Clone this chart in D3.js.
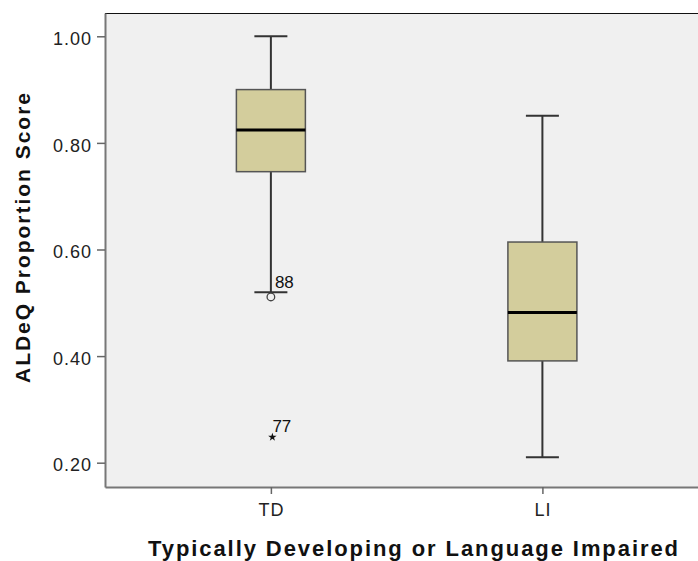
<!DOCTYPE html>
<html>
<head>
<meta charset="utf-8">
<script src="https://cdn.jsdelivr.net/npm/d3@7"></script>
<style>
  body { margin: 0; background: #fff; }
  svg { display: block; font-family: Arial, "Liberation Sans", sans-serif; }
</style>
</head>
<body>
<svg id="chart" width="698" height="561"></svg>
<script>
// box plot values
const groups = ["TD", "LI"];
const whiskerLow = [0.520, 0.210];
const q1 = [0.746, 0.391];
const median = [0.824, 0.482];
const q3 = [0.900, 0.614];
const whiskerHigh = [1.000, 0.851];

// outliers: group, value, case label, symbol
const outlierGroup = ["TD", "TD"];
const outlierValue = [0.511, 0.248];
const outlierLabel = ["88", "77"];
const outlierKind = ["circle", "star"];

const yTicks = [0.20, 0.40, 0.60, 0.80, 1.00];

const svg = d3.select('#chart');
const plotLeft = 105, plotTop = 13, plotRight = 698, plotBottom = 487;

var y = d3.scaleLinear().domain([0.1544, 1.0437]).range([plotBottom, plotTop]);
var x = d3.scalePoint().domain(groups).range([plotLeft, plotRight]).padding(0.592).align(0.516);
const boxW = 69, capW = 33;

// plot background
svg.append('rect')
    .attr('x', plotLeft).attr('y', plotTop)
    .attr('width', plotRight - plotLeft).attr('height', plotBottom - plotTop)
    .attr('fill', '#f0f0f0');

// top border
svg.append('line')
    .attr('x1', plotLeft).attr('x2', plotRight)
    .attr('y1', plotTop + 0.5).attr('y2', plotTop + 0.5)
    .attr('stroke', '#111').attr('stroke-width', 1.2);

// y axis
const yAxis = svg.append('g')
    .attr('transform', 'translate(' + plotLeft + ',0)')
    .call(d3.axisLeft(y).tickValues(yTicks).tickFormat(d3.format('.2f'))
        .tickSize(8).tickSizeOuter(0).tickPadding(5));
yAxis.select('.domain').attr('stroke', '#777').attr('stroke-width', 2);
yAxis.selectAll('.tick line').attr('stroke', '#666').attr('stroke-width', 1.5);
yAxis.selectAll('.tick text')
    .attr('font-size', 18).attr('fill', '#222')
    .attr('letter-spacing', 1)
    .attr('dy', '0.45em')
    .attr('font-family', 'Arial, "Liberation Sans", sans-serif');

// x axis
const xAxis = svg.append('g')
    .attr('transform', 'translate(0,' + plotBottom + ')')
    .call(d3.axisBottom(x).tickSize(7).tickSizeOuter(0).tickPadding(9));
xAxis.select('.domain').attr('stroke', '#777').attr('stroke-width', 2);
xAxis.selectAll('.tick line').attr('stroke', '#666').attr('stroke-width', 1.5);
xAxis.selectAll('.tick text')
    .attr('font-size', 18).attr('fill', '#222')
    .attr('letter-spacing', 0.8)
    .attr('font-family', 'Arial, "Liberation Sans", sans-serif');

const g = svg.append('g');

groups.forEach(function(name, i) {
    const cx = x(name);
    // whiskers
    g.append('line')
        .attr('x1', cx).attr('x2', cx)
        .attr('y1', y(whiskerHigh[i])).attr('y2', y(q3[i]))
        .attr('stroke', '#333').attr('stroke-width', 2);
    g.append('line')
        .attr('x1', cx).attr('x2', cx)
        .attr('y1', y(q1[i])).attr('y2', y(whiskerLow[i]))
        .attr('stroke', '#333').attr('stroke-width', 2);
    // caps
    g.append('line')
        .attr('x1', cx - capW / 2).attr('x2', cx + capW / 2)
        .attr('y1', y(whiskerHigh[i])).attr('y2', y(whiskerHigh[i]))
        .attr('stroke', '#333').attr('stroke-width', 2);
    g.append('line')
        .attr('x1', cx - capW / 2).attr('x2', cx + capW / 2)
        .attr('y1', y(whiskerLow[i])).attr('y2', y(whiskerLow[i]))
        .attr('stroke', '#333').attr('stroke-width', 2);
    // box
    g.append('rect')
        .attr('x', cx - boxW / 2).attr('y', y(q3[i]))
        .attr('width', boxW).attr('height', y(q1[i]) - y(q3[i]))
        .attr('fill', '#d3cd9c').attr('stroke', '#555').attr('stroke-width', 1.5);
    // median
    g.append('line')
        .attr('x1', cx - boxW / 2).attr('x2', cx + boxW / 2)
        .attr('y1', y(median[i])).attr('y2', y(median[i]))
        .attr('stroke', '#000').attr('stroke-width', 3);
});

// outliers
outlierValue.forEach(function(v, i) {
    const cx = x(outlierGroup[i]);
    const cy = y(v);
    if (outlierKind[i] === 'circle') {
        g.append('circle')
            .attr('cx', cx).attr('cy', cy).attr('r', 3.8)
            .attr('fill', '#f0f0f0').attr('stroke', '#444').attr('stroke-width', 1.3);
        g.append('text')
            .attr('x', cx + 4).attr('y', cy - 8.5)
            .attr('font-size', 17).attr('fill', '#111')
            .text(outlierLabel[i]);
    } else {
        g.append('path')
            .attr('transform', 'translate(' + (cx + 1.5) + ',' + cy + ')')
            .attr('d', d3.symbol().type(d3.symbolStar).size(22)())
            .attr('fill', '#111');
        g.append('text')
            .attr('x', cx + 1.5).attr('y', cy - 5.5)
            .attr('font-size', 17).attr('fill', '#111')
            .text(outlierLabel[i]);
    }
});

// axis titles
svg.append('text')
    .attr('transform', 'translate(30,238) rotate(-90)')
    .attr('text-anchor', 'middle')
    .attr('font-size', 21).attr('font-weight', 'bold').attr('fill', '#111')
    .attr('textLength', 290).attr('lengthAdjust', 'spacing')
    .text('ALDeQ Proportion Score');

svg.append('text')
    .attr('x', 413).attr('y', 556)
    .attr('text-anchor', 'middle')
    .attr('font-size', 22).attr('font-weight', 'bold').attr('fill', '#111')
    .attr('textLength', 530).attr('lengthAdjust', 'spacing')
    .text('Typically Developing or Language Impaired');
</script>
</body>
</html>
